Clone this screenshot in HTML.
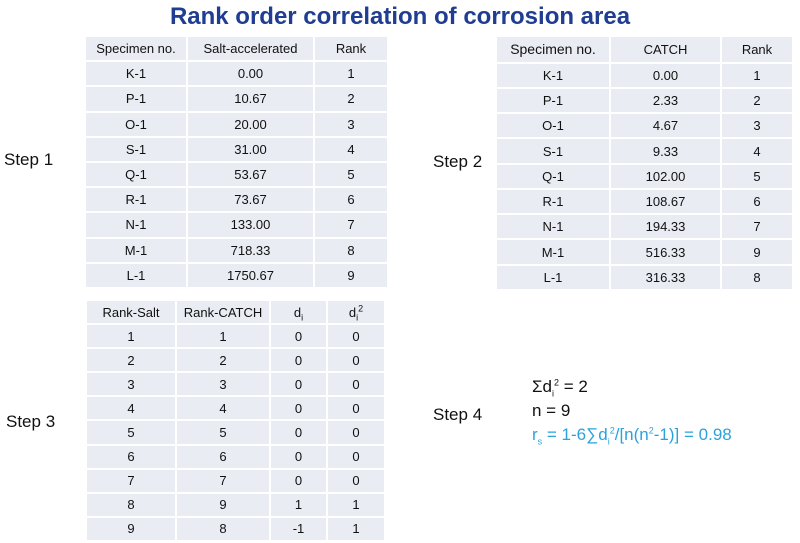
<!DOCTYPE html>
<html><head><meta charset="utf-8"><style>
body{margin:0;width:800px;height:543px;background:#fff;font-family:"Liberation Sans",sans-serif;position:relative;overflow:hidden}
.t{position:absolute;border-collapse:separate;border-spacing:2px;font-size:13px;color:#111;table-layout:fixed}
.t td{background:#e9ecf3;text-align:center;padding:0}
.lbl{position:absolute;font-size:17px;color:#111}
h1{position:absolute;margin:0;top:3px;left:0;width:800px;text-align:center;font-size:24px;color:#1f3d91;font-weight:bold}
sub,sup{font-size:9px;line-height:0}
</style></head><body>
<h1>Rank order correlation of corrosion area</h1>
<table class="t" style="left:84px;top:35px;width:303px;height:254px">
<colgroup><col style="width:100px"><col style="width:125px"><col style="width:72px"></colgroup>
<tr><td>Specimen no.</td><td>Salt-accelerated</td><td>Rank</td></tr>
<tr><td>K-1</td><td>0.00</td><td>1</td></tr>
<tr><td>P-1</td><td>10.67</td><td>2</td></tr>
<tr><td>O-1</td><td>20.00</td><td>3</td></tr>
<tr><td>S-1</td><td>31.00</td><td>4</td></tr>
<tr><td>Q-1</td><td>53.67</td><td>5</td></tr>
<tr><td>R-1</td><td>73.67</td><td>6</td></tr>
<tr><td>N-1</td><td>133.00</td><td>7</td></tr>
<tr><td>M-1</td><td>718.33</td><td>8</td></tr>
<tr><td>L-1</td><td>1750.67</td><td>9</td></tr>
</table>
<table class="t" style="left:495px;top:35px;width:297px;height:256px">
<colgroup><col style="width:112px"><col style="width:109px"><col style="width:70px"></colgroup>
<tr><td style="font-size:14px">Specimen no.</td><td>CATCH</td><td>Rank</td></tr>
<tr><td>K-1</td><td>0.00</td><td>1</td></tr>
<tr><td>P-1</td><td>2.33</td><td>2</td></tr>
<tr><td>O-1</td><td>4.67</td><td>3</td></tr>
<tr><td>S-1</td><td>9.33</td><td>4</td></tr>
<tr><td>Q-1</td><td>102.00</td><td>5</td></tr>
<tr><td>R-1</td><td>108.67</td><td>6</td></tr>
<tr><td>N-1</td><td>194.33</td><td>7</td></tr>
<tr><td>M-1</td><td>516.33</td><td>9</td></tr>
<tr><td>L-1</td><td>316.33</td><td>8</td></tr>
</table>
<table class="t" style="left:85px;top:299px;width:299px;height:243px">
<colgroup><col style="width:88px"><col style="width:92px"><col style="width:55px"><col style="width:56px"></colgroup>
<tr><td>Rank-Salt</td><td>Rank-CATCH</td><td>d<sub>i</sub></td><td>d<sub>i</sub><sup>2</sup></td></tr>
<tr><td>1</td><td>1</td><td>0</td><td>0</td></tr>
<tr><td>2</td><td>2</td><td>0</td><td>0</td></tr>
<tr><td>3</td><td>3</td><td>0</td><td>0</td></tr>
<tr><td>4</td><td>4</td><td>0</td><td>0</td></tr>
<tr><td>5</td><td>5</td><td>0</td><td>0</td></tr>
<tr><td>6</td><td>6</td><td>0</td><td>0</td></tr>
<tr><td>7</td><td>7</td><td>0</td><td>0</td></tr>
<tr><td>8</td><td>9</td><td>1</td><td>1</td></tr>
<tr><td>9</td><td>8</td><td>-1</td><td>1</td></tr>
</table>
<div class="lbl" style="left:4px;top:150px">Step 1</div>
<div class="lbl" style="left:433px;top:152px">Step 2</div>
<div class="lbl" style="left:6px;top:412px">Step 3</div>
<div class="lbl" style="left:433px;top:405px">Step 4</div>
<div style="position:absolute;left:532px;top:375px;font-size:17px;line-height:24px;color:#111">
<div>&Sigma;d<sub>i</sub><sup>2</sup> = 2</div>
<div>n = 9</div>
<div style="color:#2aa3dc">r<sub>s</sub> = 1-6&sum;d<sub>i</sub><sup>2</sup>/[n(n<sup>2</sup>-1)] = 0.98</div>
</div>
</body></html>
